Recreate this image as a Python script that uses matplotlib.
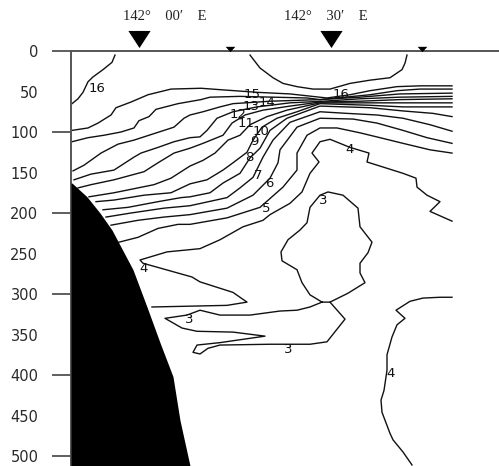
import matplotlib
matplotlib.use("Agg")
import matplotlib.pyplot as plt

# x: position along the section (arbitrary units), d: depth in metres
iso16a_x = [115,112,103,93,88,83,78,72]
iso16a_d = [5,14,23,32,38,51,59,65]
iso16b_x = [250,260,273,283,297,313,330,350,370,390,402,405,407]
iso16b_d = [5,21,33,40,44,47,47,40,36,33,23,15,5]
iso15_x = [72,88,98,111,116,131,148,171,201,223,257,290,327,350,370,397,420,452]
iso15_d = [98,95,89,79,70,63,54,47,46,48,51,53,58,54,49,44,43,43]
iso14_x = [72,88,104,121,134,139,149,156,178,201,210,240,273,307,320,370,397,420,452]
iso14_d = [112,107,104,100,95,86,81,72,65,60,57,56,57,58,60,54,49,47,47]
iso13_x = [73,84,101,118,134,154,174,184,190,203,220,233,270,320,360,400,452]
iso13_d = [148,141,126,115,110,102,94,83,79,75,69,65,62,60,57,53,52]
iso12_x = [74,91,114,134,141,158,174,190,200,207,217,233,257,290,323,360,400,452]
iso12_d = [159,152,147,131,126,119,112,107,106,98,83,75,69,64,62,59,57,56]
iso11_x = [78,91,114,144,158,174,190,203,223,232,245,263,290,320,360,400,452]
iso11_d = [169,165,159,149,138,126,120,114,104,89,79,73,68,63,62,60,59]
iso10_x = [89,114,154,171,190,203,215,228,240,250,267,287,320,370,400,452]
iso10_d = [180,175,165,157,142,135,126,110,104,91,81,73,64,64,64,64]
iso9_x = [96,114,144,171,190,207,223,233,247,253,262,277,297,320,370,403,452]
iso9_d = [186,184,178,175,164,159,147,138,125,110,94,83,75,65,67,69,69]
iso8_x = [103,128,158,181,190,210,223,240,250,260,270,287,320,370,403,433,452]
iso8_d = [196,193,186,181,180,175,163,151,132,120,98,83,68,70,74,77,81]
iso7_x = [106,131,164,190,227,240,253,263,273,290,320,347,377,403,430,452]
iso7_d = [205,200,194,191,181,169,156,131,110,88,75,77,79,83,91,99]
iso6_x = [111,138,164,190,227,253,270,278,280,297,320,353,377,403,427,452]
iso6_d = [215,209,205,202,194,178,157,138,122,94,83,84,89,98,107,114]
iso5_x = [119,138,158,178,190,227,260,283,297,297,307,320,337,360,380,403,430,452]
iso5_d = [236,230,219,214,214,206,193,168,147,126,104,95,95,101,107,114,122,126]
iso4a_x = [452,430,440,427,417,416,403,367,369,350,330,320,312,319,310,302,290,270,263,243,220,200,167,140,143,192,200,233,247,227,152]
iso4a_d = [210,198,186,178,168,157,151,137,126,119,109,112,126,137,151,174,188,202,209,217,233,244,248,258,262,279,285,298,310,314,316]
iso4b_x = [452,440,423,410,396,405,397,392,387,387,384,381,382,390,393,403,412]
iso4b_d = [304,304,305,309,320,330,338,353,375,394,419,431,446,472,480,495,511]
iso3a_x = [322,310,302,297,282,281,288,300,307,310,320,328,343,358,360,372,368,360,360,365,348,330,322]
iso3a_d = [310,301,286,270,259,248,233,221,212,193,178,174,178,194,217,236,249,262,274,286,299,310,310]
iso3b_x = [322,310,297,280,250,220,200,187,165,182,197,233,265,220,197,193,200,208,220,270,310,327,345,330]
iso3b_d = [310,316,320,321,326,326,320,326,330,342,346,347,352,360,363,372,374,367,363,362,362,359,331,310]

seabed_x = [72,87,100,112,133,147,160,173,180,190]
seabed_d = [163,180,200,221,270,316,360,402,456,512]

label_text = ["16","16","15","14","13","12","11","10","9","8","7","6","5","4","3","4","3","3","4"]
label_x = [97,341,252,267,251,238,246,261,254,249,258,269,266,350,323,144,189,288,391]
label_d = [46,54,54,64,68,78,90,99,112,132,154,164,194,122,184,268,332,369,398]

depth_ticks = [0,50,100,150,200,250,300,350,400,450,500]
long_ticks = [0,100,200,300,400,500]
big_station_x = [139,331]
small_station_x = [230,422]
lon_text = ["142°    00′    E","142°    30′    E"]
lon_x = [165,326]

W, H = 499, 466
fig = plt.figure(figsize=(W/100, H/100), dpi=100)
ax = fig.add_axes([71/W, 0, 428/W, 415/H])
ax.set_xlim(71, 499)
ax.set_ylim(512.3, 0)

ink = "#111111"
lines = [(iso16a_x,iso16a_d),(iso16b_x,iso16b_d),(iso15_x,iso15_d),(iso14_x,iso14_d),
         (iso13_x,iso13_d),(iso12_x,iso12_d),(iso11_x,iso11_d),(iso10_x,iso10_d),
         (iso9_x,iso9_d),(iso8_x,iso8_d),(iso7_x,iso7_d),(iso6_x,iso6_d),(iso5_x,iso5_d),
         (iso4a_x,iso4a_d),(iso4b_x,iso4b_d),(iso3a_x,iso3a_d),(iso3b_x,iso3b_d)]
for xs, ds in lines:
    ax.plot(xs, ds, color=ink, lw=1.0, solid_joinstyle="round")

ax.fill_betweenx(seabed_d, 71, seabed_x, color="black", lw=0, zorder=3)

for t, x, d in zip(label_text, label_x, label_d):
    ax.text(x, d, t, fontsize=9.5, color=ink, ha="center", va="center",
            family="DejaVu Sans", zorder=4)

ax.xaxis.set_visible(False)
for s in ("right", "bottom"):
    ax.spines[s].set_visible(False)
for s in ("left", "top"):
    ax.spines[s].set_color("#555555")
    ax.spines[s].set_linewidth(1.4)

ax.yaxis.remove_overlapping_locs = False
ax.set_yticks(depth_ticks)
ax.set_yticklabels([str(v) for v in depth_ticks], fontsize=10.5, color="#2a2a2a", family="DejaVu Sans")
ax.tick_params(axis="y", which="major", length=0, pad=23.5)
ax.set_yticks(long_ticks, minor=True)
ax.tick_params(axis="y", which="minor", length=13.7, width=1.1, color="#333333")

big = [(-1, 0.77), (1, 0.77), (0, -0.77)]
small = [(-1, 0.55), (1, 0.55), (0, -0.55)]
ax.plot(big_station_x, [-14.5]*len(big_station_x), ls="", marker=big, ms=16, color="black",
        mew=0, clip_on=False, zorder=5)
ax.plot(small_station_x, [-3]*len(small_station_x), ls="", marker=small, ms=7, color="black",
        mew=0, clip_on=False, zorder=5)

for t, x in zip(lon_text, lon_x):
    ax.text(x, -43, t, fontsize=10.5, color="#222222", ha="center", va="center",
            family=["Liberation Serif", "DejaVu Serif"])

fig.savefig("out.png", dpi=100)
